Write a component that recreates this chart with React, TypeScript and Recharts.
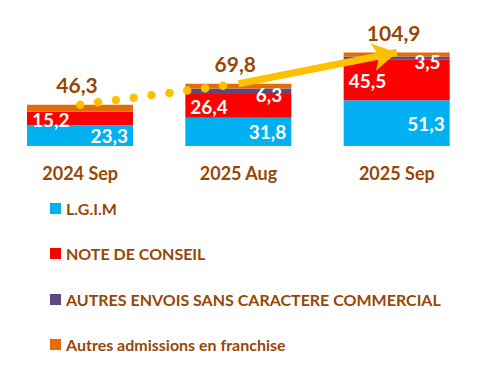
import React from 'react';
import { ComposedChart, Bar, Line, XAxis, YAxis, LabelList } from 'recharts';

const categories = ['2024 Sep', '2025 Aug', '2025 Sep'];
const lgim = [23.3, 31.8, 51.3];
const noteConseil = [15.2, 26.4, 45.5];
const autresEnvois = [0.0, 6.3, 3.5];
const admissions = [7.8, 5.3, 4.6];
const totals = [46.3, 69.8, 104.9];
const dottedTrend = [46.3, 69.8, null];
const arrowTrend = [null, 69.8, 104.9];

const seriesNames = [
  'L.G.I.M',
  'NOTE DE CONSEIL',
  'AUTRES ENVOIS SANS CARACTERE COMMERCIAL',
  'Autres admissions en franchise',
];
const COLORS = ['#00B0F0', '#FF0000', '#5F497A', '#E36C09'];
const BROWN = '#974706';
const YELLOW = '#FFC000';
const FONT = 'Lato, "Open Sans", sans-serif';

const data = categories.map((c, i) => ({
  name: c,
  lgim: lgim[i],
  note: noteConseil[i],
  autres: autresEnvois[i],
  adm: admissions[i],
  total: totals[i],
  dotted: dottedTrend[i],
  arrow: arrowTrend[i],
}));

const fmt = (v: any) => (v == null ? '' : Number(v).toFixed(1).replace('.', ','));

const makeInnerLabel = (side: 'left' | 'right', inset: number, dy: number) => (props: any) => {
  const { x, y, width, height, value } = props;
  const cx = side === 'left' ? x + inset : x + width - inset;
  return (
    <text
      x={cx}
      y={y + height / 2 + dy}
      textAnchor={side === 'left' ? 'start' : 'end'}
      dominantBaseline="central"
      fill="#FFFFFF"
      fontFamily={FONT}
      fontWeight={700}
      fontSize={19}
    >
      {fmt(value)}
    </text>
  );
};

const TotalLabel = (props: any) => {
  const { x, y, width, value } = props;
  return (
    <text
      x={x + width / 2 - 3}
      y={y - 20}
      textAnchor="middle"
      dominantBaseline="central"
      fill={BROWN}
      fontFamily={FONT}
      fontWeight={700}
      fontSize={21}
    >
      {fmt(value)}
    </text>
  );
};

const CategoryTick = (props: any) => {
  const { x, y, payload } = props;
  return (
    <text
      x={x}
      y={y + 27}
      textAnchor="middle"
      dominantBaseline="central"
      fill={BROWN}
      fontFamily={FONT}
      fontWeight={700}
      fontSize={18}
    >
      {payload.value}
    </text>
  );
};

const LegendBlock = () => (
  <div style={{ position: 'absolute', left: 50, top: 186, fontFamily: FONT }}>
    {seriesNames.map((n, i) => (
      <div
        key={n}
        style={{ display: 'flex', alignItems: 'center', height: 45.3, color: BROWN, fontWeight: 700, fontSize: 16, whiteSpace: 'nowrap' }}
      >
        <span style={{ display: 'inline-block', width: 11, height: 11, background: COLORS[i], marginRight: 5 }} />
        <span>{n}</span>
      </div>
    ))}
  </div>
);

export default function App() {
  return (
    <div style={{ position: 'absolute', left: 0, top: 0, width: 482, height: 369, background: '#fff' }}>
      <svg width={0} height={0} style={{ position: 'absolute' }}>
        <defs>
          <marker
            id="trendArrow"
            markerUnits="userSpaceOnUse"
            markerWidth={26}
            markerHeight={28}
            refX={24}
            refY={14}
            orient="auto"
          >
            <path d="M0,0 L24,14 L0,28 L6,14 Z" fill={YELLOW} />
          </marker>
        </defs>
      </svg>
      <ComposedChart
        width={482}
        height={369}
        data={data}
        margin={{ top: 39, right: 6, left: 1, bottom: 193 }}
      >
        <XAxis
          dataKey="name"
          axisLine={false}
          tickLine={false}
          height={30}
          tick={<CategoryTick />}
          tickSize={0}
          tickMargin={0}
          interval={0}
        />
        <YAxis hide domain={[0, 120]} />
        <Bar dataKey="lgim" stackId="a" fill={COLORS[0]} barSize={106} isAnimationActive={false}>
          <LabelList dataKey="lgim" content={makeInnerLabel('right', 5, 0)} />
        </Bar>
        <Bar dataKey="note" stackId="a" fill={COLORS[1]} barSize={106} isAnimationActive={false}>
          <LabelList dataKey="note" content={makeInnerLabel('left', 5, 1)} />
        </Bar>
        <Bar dataKey="autres" stackId="a" fill={COLORS[2]} barSize={106} isAnimationActive={false}>
          <LabelList dataKey="autres" content={makeInnerLabel('right', 9, 3)} />
        </Bar>
        <Bar dataKey="adm" stackId="a" fill={COLORS[3]} barSize={106} isAnimationActive={false}>
          <LabelList dataKey="total" content={<TotalLabel />} />
        </Bar>
        <Line
          dataKey="dotted"
          type="linear"
          stroke={YELLOW}
          strokeWidth={8.5}
          strokeLinecap="round"
          strokeDasharray="0 18"
          dot={false}
          activeDot={false}
          connectNulls={false}
          isAnimationActive={false}
        />
        <Line
          dataKey="arrow"
          type="linear"
          stroke={YELLOW}
          strokeWidth={7}
          markerEnd="url(#trendArrow)"
          dot={false}
          activeDot={false}
          connectNulls={false}
          isAnimationActive={false}
        />
      </ComposedChart>
      <LegendBlock />
    </div>
  );
}
